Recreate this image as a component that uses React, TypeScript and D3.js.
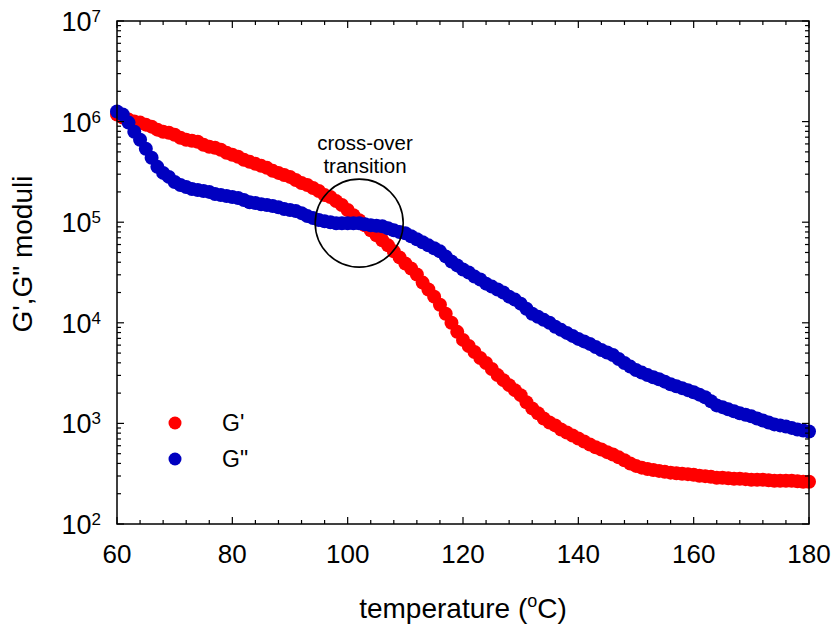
import React from 'react';
import * as d3 from 'd3';

// temperature (°C), one reading per degree
const temperature = d3.range(60, 181);

// storage modulus G'
const gPrime = [
  1.175e6, 1.096e6, 1.047e6, 1.0e6, 9.77e5, 9.33e5, 8.91e5, 8.32e5, 7.94e5, 7.76e5,
  7.41e5, 6.92e5, 6.61e5, 6.46e5, 6.31e5, 5.89e5, 5.62e5, 5.5e5, 5.25e5, 4.9e5,
  4.68e5, 4.47e5, 4.17e5, 3.98e5, 3.8e5, 3.63e5, 3.47e5, 3.24e5, 3.09e5, 2.95e5,
  2.82e5, 2.63e5, 2.45e5, 2.34e5, 2.19e5, 2.04e5, 1.86e5, 1.78e5, 1.62e5, 1.48e5,
  1.32e5, 1.175e5, 1.047e5, 9.33e4, 8.32e4, 7.41e4, 6.61e4, 5.89e4, 5.13e4, 4.47e4,
  3.89e4, 3.47e4, 3.02e4, 2.51e4, 2.14e4, 1.82e4, 1.51e4, 1.23e4, 1.0e4, 8.13e3,
  6.76e3, 5.89e3, 5.13e3, 4.47e3, 3.98e3, 3.47e3, 3.02e3, 2.69e3, 2.4e3, 2.14e3,
  1.91e3, 1.62e3, 1.41e3, 1.26e3, 1.12e3, 1.02e3, 955, 871, 813, 759,
  708, 661, 617, 580, 550, 518, 490, 460, 430, 400,
  378, 363, 352, 344, 337, 330, 324, 320, 316, 313,
  309, 302, 299, 295, 288, 288, 285, 282, 282, 279,
  275, 275, 275, 272, 269, 269, 269, 269, 266, 263,
  263,
];

// loss modulus G"
const gDoublePrime = [
  1.26e6, 1.175e6, 9.77e5, 7.94e5, 6.61e5, 5.37e5, 4.37e5, 3.55e5, 3.09e5, 2.82e5,
  2.51e5, 2.34e5, 2.24e5, 2.14e5, 2.09e5, 2.04e5, 2.0e5, 1.91e5, 1.86e5, 1.82e5,
  1.78e5, 1.74e5, 1.66e5, 1.58e5, 1.55e5, 1.51e5, 1.48e5, 1.45e5, 1.41e5, 1.35e5,
  1.32e5, 1.29e5, 1.23e5, 1.15e5, 1.1e5, 1.05e5, 1.02e5, 1.0e5, 9.77e4, 9.77e4,
  9.77e4, 9.77e4, 9.77e4, 9.55e4, 9.33e4, 9.2e4, 9.12e4, 8.71e4, 8.32e4, 8.0e4,
  7.76e4, 7.24e4, 6.76e4, 6.31e4, 5.89e4, 5.5e4, 5.13e4, 4.57e4, 4.07e4, 3.72e4,
  3.39e4, 3.16e4, 2.88e4, 2.69e4, 2.45e4, 2.29e4, 2.14e4, 2.0e4, 1.82e4, 1.7e4,
  1.55e4, 1.38e4, 1.23e4, 1.15e4, 1.07e4, 1.0e4, 9.12e3, 8.51e3, 7.94e3, 7.41e3,
  6.92e3, 6.53e3, 6.17e3, 5.75e3, 5.37e3, 5.07e3, 4.79e3, 4.37e3, 3.98e3, 3.67e3,
  3.39e3, 3.2e3, 3.02e3, 2.88e3, 2.75e3, 2.6e3, 2.45e3, 2.34e3, 2.24e3, 2.14e3,
  2.04e3, 1.93e3, 1.82e3, 1.66e3, 1.51e3, 1.45e3, 1.38e3, 1.32e3, 1.26e3, 1.22e3,
  1.175e3, 1.12e3, 1.07e3, 1.02e3, 977, 955, 933, 902, 871, 851,
  832,
];

const xTicks = [60, 80, 100, 120, 140, 160, 180];
const yExponents = [2, 3, 4, 5, 6, 7];
const seriesNames = ["G'", 'G"'];
const seriesColors = ['#ff0000', '#0000c0'];
const annotationLines = ['cross-over', 'transition'];
const crossover = { t: 102, g: 9.8e4 };

const W = 835;
const H = 628;
const left = 117;
const right = 809;
const top = 21;
const bottom = 524;
const font = 'Arial, "Liberation Sans", sans-serif';

export default function App() {
  const x = d3.scaleLinear().domain([60, 180]).range([left, right]);
  const y = d3.scaleLog().domain([1e2, 1e7]).range([bottom, top]);

  const minorX = d3.range(60, 181, 4).filter((t) => !xTicks.includes(t));
  const minorY: number[] = [];
  yExponents.slice(0, -1).forEach((e) => {
    for (let m = 2; m <= 9; m++) minorY.push(m * 10 ** e);
  });

  const series = [gPrime, gDoublePrime];

  return (
    <svg
      width={W}
      height={H}
      style={{ position: 'absolute', left: 0, top: 0, background: '#fff' }}
      fontFamily={font}
    >
      {/* data */}
      {series.map((vals, si) => (
        <g key={si} fill={seriesColors[si]}>
          {vals.map((v, i) => (
            <circle key={i} cx={x(temperature[i])} cy={y(v)} r={7} />
          ))}
        </g>
      ))}

      {/* frame */}
      <rect x={left} y={top} width={right - left} height={bottom - top} fill="none" stroke="#000" strokeWidth={1.5} />

      {/* ticks, pointing inward on all sides */}
      <g stroke="#000" strokeWidth={1.2}>
        {xTicks.map((t) => (
          <g key={'xm' + t}>
            <line x1={x(t)} x2={x(t)} y1={bottom} y2={bottom - 7} />
            <line x1={x(t)} x2={x(t)} y1={top} y2={top + 7} />
          </g>
        ))}
        {minorX.map((t) => (
          <g key={'xn' + t}>
            <line x1={x(t)} x2={x(t)} y1={bottom} y2={bottom - 4} />
            <line x1={x(t)} x2={x(t)} y1={top} y2={top + 4} />
          </g>
        ))}
        {yExponents.map((e) => (
          <g key={'ym' + e}>
            <line x1={left} x2={left + 7} y1={y(10 ** e)} y2={y(10 ** e)} />
            <line x1={right} x2={right - 7} y1={y(10 ** e)} y2={y(10 ** e)} />
          </g>
        ))}
        {minorY.map((v) => (
          <g key={'yn' + v}>
            <line x1={left} x2={left + 4} y1={y(v)} y2={y(v)} />
            <line x1={right} x2={right - 4} y1={y(v)} y2={y(v)} />
          </g>
        ))}
      </g>

      {/* tick labels */}
      <g fill="#000">
        {xTicks.map((t) => (
          <text key={'xl' + t} x={x(t)} y={563} fontSize={26} textAnchor="middle">
            {t}
          </text>
        ))}
        {yExponents.map((e) => (
          <text key={'yl' + e} x={101} y={y(10 ** e) + 10} fontSize={27} textAnchor="end">
            10
            <tspan fontSize={17} dy={-9}>
              {e}
            </tspan>
          </text>
        ))}
      </g>

      {/* axis titles */}
      <text x={(left + right) / 2} y={618} fontSize={28} textAnchor="middle">
        temperature (
        <tspan fontSize={18} dy={-11}>o</tspan>
        <tspan dy={11}>C)</tspan>
      </text>
      <text transform="translate(32,254) rotate(-90)" fontSize={28} textAnchor="middle">
        G',G" moduli
      </text>

      {/* annotation */}
      <circle cx={x(crossover.t)} cy={y(crossover.g)} r={44} fill="none" stroke="#000" strokeWidth={1.6} />
      {annotationLines.map((s, i) => (
        <text key={s} x={365} y={150 + i * 23} fontSize={20.5} textAnchor="middle">
          {s}
        </text>
      ))}

      {/* legend */}
      {seriesNames.map((name, i) => (
        <g key={name}>
          <circle cx={175} cy={423 + i * 36} r={6.5} fill={seriesColors[i]} />
          <text x={222} y={431 + i * 36} fontSize={23}>
            {name}
          </text>
        </g>
      ))}
    </svg>
  );
}
